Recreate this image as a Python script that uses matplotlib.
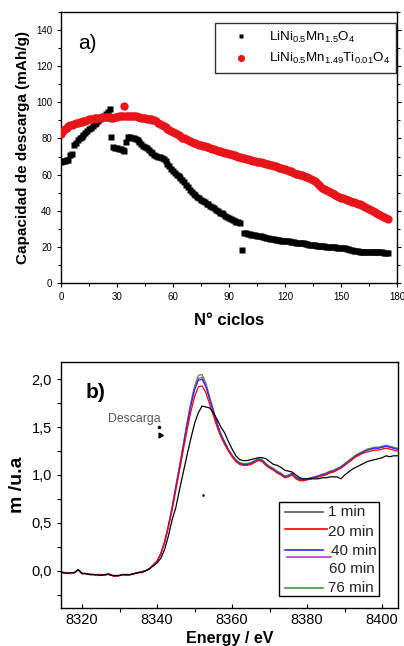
import numpy as np
import matplotlib
matplotlib.use("Agg")
import matplotlib.pyplot as plt
from matplotlib.lines import Line2D
from matplotlib.patches import Rectangle
from matplotlib.ticker import MultipleLocator, FuncFormatter

plt.rcParams['font.family'] = ['Liberation Sans', 'DejaVu Sans']
plt.rcParams['mathtext.fontset'] = 'custom'
plt.rcParams['mathtext.rm'] = 'Liberation Sans'

# --- Cycling data (discharge capacity, mAh/g) --------------------------------

cycles = np.arange(176)

cap_lnmo = [
    67.0, 67.5, 67.5, 68.0, 68.0, 71.0, 71.5, 76.5, 77.5, 79.0,
    80.0, 81.0, 82.0, 83.0, 84.0, 85.0, 86.0, 87.0, 88.0, 88.5,
    89.5, 90.5, 91.5, 92.5, 93.5, 94.5, 96.5, 81.0, 75.0, 74.5,
    74.5, 74.0, 74.0, 73.5, 73.0, 78.0, 81.0, 81.0, 80.5, 80.0,
    79.5, 79.0, 78.0, 77.0, 76.0, 75.5, 74.5, 73.5, 72.5, 72.0,
    71.0, 70.5, 70.0, 69.5, 69.0, 68.5, 67.5, 66.0, 64.5, 63.0,
    62.0, 61.0, 60.0, 59.0, 58.0, 57.0, 56.0, 54.5, 53.0, 51.5,
    50.5, 49.5, 48.5, 47.5, 47.0, 46.0, 45.5, 45.0, 44.0, 43.5,
    42.5, 42.0, 41.5, 40.5, 40.0, 39.0, 38.5, 38.0, 37.0, 36.5,
    36.0, 35.5, 35.0, 34.5, 34.0, 33.5, 33.0, 18.0, 27.5, 27.5,
    27.0, 27.0, 26.8, 26.6, 26.4, 26.2, 26.0, 25.8, 25.6, 25.3,
    25.0, 24.8, 24.6, 24.4, 24.2, 24.0, 23.9, 23.7, 23.5, 23.4,
    23.2, 23.1, 23.0, 22.8, 22.7, 22.5, 22.4, 22.3, 22.1, 22.0,
    21.9, 21.7, 21.5, 21.3, 21.1, 20.9, 20.8, 20.7, 20.6, 20.5,
    20.4, 20.3, 20.2, 20.1, 20.0, 19.9, 19.8, 19.7, 19.6, 19.5,
    19.4, 19.3, 19.2, 19.0, 18.8, 18.5, 18.2, 17.9, 17.7, 17.5,
    17.4, 17.3, 17.3, 17.2, 17.2, 17.1, 17.1, 17.0, 17.0, 17.0,
    16.9, 16.9, 16.9, 16.8, 16.8, 16.8,
]

cap_lnmo_ti = [
    82.5, 84.0, 85.2, 86.0, 86.7, 87.2, 87.6, 88.0, 88.4, 88.7,
    89.0, 89.3, 89.6, 89.9, 90.2, 90.5, 90.7, 90.9, 91.1, 91.3,
    91.5, 91.6, 91.7, 91.8, 91.9, 92.0, 91.8, 91.5, 91.6, 91.9,
    92.1, 92.3, 92.4, 92.5, 97.7, 92.6, 92.6, 92.5, 92.4, 92.3,
    92.2, 92.0, 91.8, 91.6, 91.4, 91.2, 91.0, 90.8, 90.5, 90.3,
    90.0, 89.4, 88.7, 88.0, 87.4, 86.8, 86.1, 85.4, 84.8, 84.1,
    83.5, 82.9, 82.3, 81.7, 81.1, 80.5, 80.0, 79.5, 79.0, 78.5,
    78.0, 77.7, 77.3, 77.0, 76.6, 76.3, 76.0, 75.6, 75.3, 75.0,
    74.7, 74.4, 74.0, 73.7, 73.3, 73.0, 72.7, 72.4, 72.1, 71.8,
    71.5, 71.2, 70.9, 70.6, 70.3, 70.0, 69.7, 69.4, 69.1, 68.8,
    68.5, 68.3, 68.0, 67.7, 67.5, 67.2, 67.0, 66.7, 66.5, 66.2,
    66.0, 65.7, 65.4, 65.1, 64.8, 64.5, 64.2, 63.9, 63.6, 63.3,
    63.0, 62.6, 62.2, 61.8, 61.4, 61.0, 60.6, 60.3, 59.9, 59.6,
    59.2, 58.9, 58.6, 58.3, 57.8, 57.2, 56.3, 55.4, 54.5, 53.6,
    52.7, 52.1, 51.6, 51.0, 50.5, 50.0, 49.4, 48.9, 48.3, 47.8,
    47.2, 46.8, 46.5, 46.1, 45.8, 45.4, 45.0, 44.6, 44.3, 43.9,
    43.5, 42.9, 42.4, 41.8, 41.3, 40.7, 40.2, 39.7, 39.2, 38.8,
    38.3, 37.8, 37.3, 36.8, 36.2, 35.6,
]

# --- XANES spectra (normalised absorption vs energy) -------------------------

energy = np.arange(8314, 8405)

mu_1min = [
    -0.02, -0.02, -0.03, -0.02, -0.02, 0.01, -0.03, -0.03, -0.04, -0.04,
    -0.04, -0.05, -0.04, -0.04, -0.05, -0.05, -0.05, -0.04, -0.04, -0.04,
    -0.03, -0.02, -0.02, 0.00, 0.02, 0.05, 0.08, 0.13, 0.22, 0.36,
    0.53, 0.66, 0.85, 1.03, 1.21, 1.38, 1.54, 1.65, 1.72, 1.71,
    1.70, 1.65, 1.58, 1.50, 1.44, 1.35, 1.27, 1.20, 1.16, 1.15,
    1.15, 1.16, 1.17, 1.18, 1.18, 1.17, 1.14, 1.11, 1.10, 1.08,
    1.05, 1.04, 1.03, 1.00, 0.97, 0.96, 0.96, 0.96, 0.96, 0.96,
    0.97, 0.97, 0.98, 0.98, 0.98, 0.96, 1.00, 1.03, 1.06, 1.08,
    1.10, 1.12, 1.14, 1.15, 1.16, 1.17, 1.18, 1.20, 1.19, 1.20,
    1.20,
]

mu_20min = [
    -0.01, -0.02, -0.02, -0.03, -0.02, 0.01, -0.03, -0.03, -0.04, -0.04,
    -0.05, -0.04, -0.05, -0.03, -0.05, -0.06, -0.05, -0.04, -0.05, -0.04,
    -0.03, -0.02, -0.01, 0.00, 0.02, 0.06, 0.10, 0.17, 0.29, 0.45,
    0.63, 0.84, 1.05, 1.26, 1.47, 1.66, 1.82, 1.92, 1.93, 1.86,
    1.74, 1.62, 1.50, 1.40, 1.32, 1.25, 1.19, 1.14, 1.11, 1.10,
    1.10, 1.11, 1.13, 1.15, 1.14, 1.10, 1.07, 1.05, 1.02, 1.00,
    0.97, 0.98, 1.00, 0.96, 0.94, 0.94, 0.95, 0.96, 0.97, 0.98,
    0.99, 1.00, 1.02, 1.03, 1.05, 1.07, 1.10, 1.13, 1.16, 1.19,
    1.21, 1.23, 1.24, 1.25, 1.26, 1.26, 1.27, 1.28, 1.27, 1.26,
    1.25,
]

mu_40min = [
    -0.01, -0.02, -0.02, -0.03, -0.02, 0.01, -0.03, -0.03, -0.04, -0.04,
    -0.05, -0.04, -0.05, -0.03, -0.05, -0.06, -0.05, -0.04, -0.05, -0.04,
    -0.03, -0.02, -0.01, 0.00, 0.02, 0.06, 0.10, 0.18, 0.30, 0.46,
    0.65, 0.87, 1.08, 1.30, 1.52, 1.72, 1.89, 1.99, 2.00, 1.92,
    1.79, 1.66, 1.53, 1.42, 1.34, 1.26, 1.20, 1.15, 1.12, 1.11,
    1.11, 1.12, 1.14, 1.16, 1.15, 1.11, 1.08, 1.06, 1.03, 1.01,
    0.98, 0.99, 1.01, 0.97, 0.95, 0.95, 0.96, 0.97, 0.98, 0.99,
    1.00, 1.01, 1.03, 1.04, 1.06, 1.08, 1.11, 1.14, 1.17, 1.20,
    1.22, 1.24, 1.26, 1.27, 1.28, 1.28, 1.29, 1.30, 1.29, 1.28,
    1.27,
]

mu_60min = [
    -0.01, -0.02, -0.02, -0.03, -0.02, 0.01, -0.03, -0.03, -0.04, -0.04,
    -0.05, -0.04, -0.05, -0.03, -0.05, -0.06, -0.05, -0.04, -0.05, -0.04,
    -0.03, -0.02, -0.01, 0.00, 0.02, 0.06, 0.10, 0.18, 0.30, 0.47,
    0.66, 0.88, 1.09, 1.31, 1.54, 1.74, 1.91, 2.01, 2.02, 1.94,
    1.80, 1.67, 1.53, 1.42, 1.34, 1.26, 1.20, 1.15, 1.12, 1.11,
    1.11, 1.12, 1.14, 1.16, 1.15, 1.11, 1.08, 1.06, 1.03, 1.01,
    0.98, 0.99, 1.01, 0.97, 0.95, 0.94, 0.95, 0.96, 0.97, 0.98,
    1.00, 1.01, 1.03, 1.04, 1.06, 1.08, 1.11, 1.14, 1.17, 1.20,
    1.22, 1.24, 1.26, 1.27, 1.28, 1.28, 1.29, 1.30, 1.29, 1.28,
    1.27,
]

mu_76min = [
    -0.01, -0.02, -0.02, -0.03, -0.02, 0.01, -0.03, -0.03, -0.04, -0.04,
    -0.05, -0.04, -0.05, -0.03, -0.05, -0.06, -0.05, -0.04, -0.05, -0.04,
    -0.03, -0.02, -0.01, 0.00, 0.02, 0.06, 0.10, 0.18, 0.30, 0.47,
    0.66, 0.88, 1.10, 1.32, 1.55, 1.76, 1.93, 2.04, 2.05, 1.96,
    1.82, 1.68, 1.54, 1.43, 1.35, 1.27, 1.21, 1.16, 1.13, 1.12,
    1.12, 1.13, 1.15, 1.17, 1.16, 1.12, 1.09, 1.07, 1.04, 1.02,
    0.99, 1.00, 1.02, 0.98, 0.96, 0.95, 0.96, 0.97, 0.98, 0.99,
    1.01, 1.02, 1.04, 1.05, 1.07, 1.09, 1.12, 1.15, 1.18, 1.21,
    1.23, 1.25, 1.27, 1.28, 1.29, 1.29, 1.30, 1.31, 1.30, 1.29,
    1.28,
]

spectra = [mu_1min, mu_20min, mu_40min, mu_60min, mu_76min]
spectra_labels = ['1 min', '20 min', '40 min', '60 min', '76 min']
spectra_colors = ['black', '#ff0000', '#2a2aff', '#b040c8', '#3c9a3c']

# --- Figure ------------------------------------------------------------------

fig = plt.figure(figsize=(4.04, 6.46), dpi=100)

ax1 = fig.add_axes([61 / 404, 1 - 283 / 646, 336 / 404, 271 / 646])
ax2 = fig.add_axes([61 / 404, 1 - 608 / 646, 337 / 404, 246 / 646])

# --- Panel a): capacity vs cycle ---------------------------------------------

ax1.plot(cycles, cap_lnmo, ls='none', marker='s', ms=4.0, color='black',
         mec='none', label=r'LiNi$_{0.5}$Mn$_{1.5}$O$_4$', zorder=3)
ax1.plot(cycles, cap_lnmo_ti, ls='none', marker='o', ms=6.0, color='#e8141a',
         mec='none', label=r'LiNi$_{0.5}$Mn$_{1.49}$Ti$_{0.01}$O$_4$', zorder=4)

ax1.set_xlim(0, 180)
ax1.set_ylim(0, 150)
ax1.xaxis.set_major_locator(MultipleLocator(30))
ax1.xaxis.set_minor_locator(MultipleLocator(15))
ax1.yaxis.set_major_locator(MultipleLocator(20))
ax1.yaxis.set_minor_locator(MultipleLocator(10))
ax1.set_yticks(np.arange(0, 141, 20))
ax1.tick_params(which='both', direction='out', labelsize=7, right=True,
                width=0.8)
ax1.tick_params(which='major', length=3)
ax1.tick_params(which='minor', length=2)
for s in ax1.spines.values():
    s.set_linewidth(1.0)

ax1.set_ylabel('Capacidad de descarga (mAh/g)', fontsize=11, fontweight='bold',
               labelpad=4)
ax1.set_xlabel('N° ciclos', fontsize=12, fontweight='bold', labelpad=8)
ax1.text(0.052, 0.885, 'a)', transform=ax1.transAxes, fontsize=15,
         ha='left', va='center')

leg = ax1.legend(loc='upper right', bbox_to_anchor=(0.998, 0.96),
                 fontsize=9.6, frameon=True, fancybox=False, borderpad=0.5,
                 handlelength=2.8, handletextpad=0.7, labelspacing=0.5,
                 borderaxespad=0, markerscale=0.85)
leg.get_frame().set_edgecolor('black')
leg.get_frame().set_linewidth(1.0)

# --- Panel b): XANES ---------------------------------------------------------

for mu, c, lab in zip(spectra[::-1], spectra_colors[::-1], spectra_labels[::-1]):
    ax2.plot(energy, mu, color=c, lw=0.9, label=lab)

ax2.set_xlim(8314.4, 8404.2)
ax2.set_ylim(-0.39, 2.18)
ax2.xaxis.set_major_locator(MultipleLocator(20))
ax2.xaxis.set_minor_locator(MultipleLocator(10))
ax2.yaxis.set_major_locator(MultipleLocator(0.5))
ax2.yaxis.set_minor_locator(MultipleLocator(0.25))
ax2.yaxis.set_major_formatter(FuncFormatter(lambda v, p: f'{v:.1f}'.replace('.', ',')))
ax2.tick_params(which='both', labelsize=10.5, width=0.8)
ax2.tick_params(axis='x', which='major', direction='in', length=3)
ax2.tick_params(axis='x', which='minor', direction='out', length=3)
ax2.tick_params(axis='y', which='both', direction='out', length=3)
for s in ax2.spines.values():
    s.set_linewidth(1.0)

ax2.set_ylabel('m /u.a', fontsize=14, fontweight='bold', labelpad=4)
ax2.set_xlabel('Energy / eV', fontsize=11.5, fontweight='bold', labelpad=3)
ax2.text(0.073, 0.875, 'b)', transform=ax2.transAxes, fontsize=15,
         fontweight='bold', ha='left', va='center')
ax2.text(8327.0, 1.58, 'Descarga', fontsize=8.8, color='#555555',
         ha='left', va='center')
ax2.plot([8340.6], [1.505], marker='o', ms=1.5, color='black')
ax2.plot([8340.8], [1.42], marker=(3, 0, 30), ms=4, color='black')
ax2.plot([8352.2], [0.79], marker='o', ms=1.0, color='#333333')

# legend drawn by hand, keeping the original's uneven entry placement
bx0, bx1, by0, by1 = 0.648, 0.9445, 0.0488, 0.432
ax2.add_patch(Rectangle((bx0, by0), bx1 - bx0, by1 - by0, transform=ax2.transAxes,
                        fill=True, facecolor='white', edgecolor='black',
                        lw=1.0, zorder=5))
leg_lines = [
    ('#555555', 0.665, 0.7765, 0.389),
    ('#ff0000', 0.665, 0.79, 0.321),
    ('#2a2aff', 0.665, 0.7765, 0.236),
    ('#b040c8', 0.6715, 0.801, 0.2085),
    ('#3c9a3c', 0.665, 0.7765, 0.0825),
]
for c, x0, x1, y in leg_lines:
    ax2.add_line(Line2D([x0, x1], [y, y], color=c, lw=1.2,
                        transform=ax2.transAxes, zorder=6))
leg_text = [(0.792, 0.389), (0.792, 0.310), (0.801, 0.233),
            (0.795, 0.157), (0.792, 0.081)]
for lab, (x, y) in zip(spectra_labels, leg_text):
    ax2.text(x, y, lab, transform=ax2.transAxes, fontsize=11,
             ha='left', va='center', color='#222222', zorder=7)

fig.savefig('out.png', dpi=100)
